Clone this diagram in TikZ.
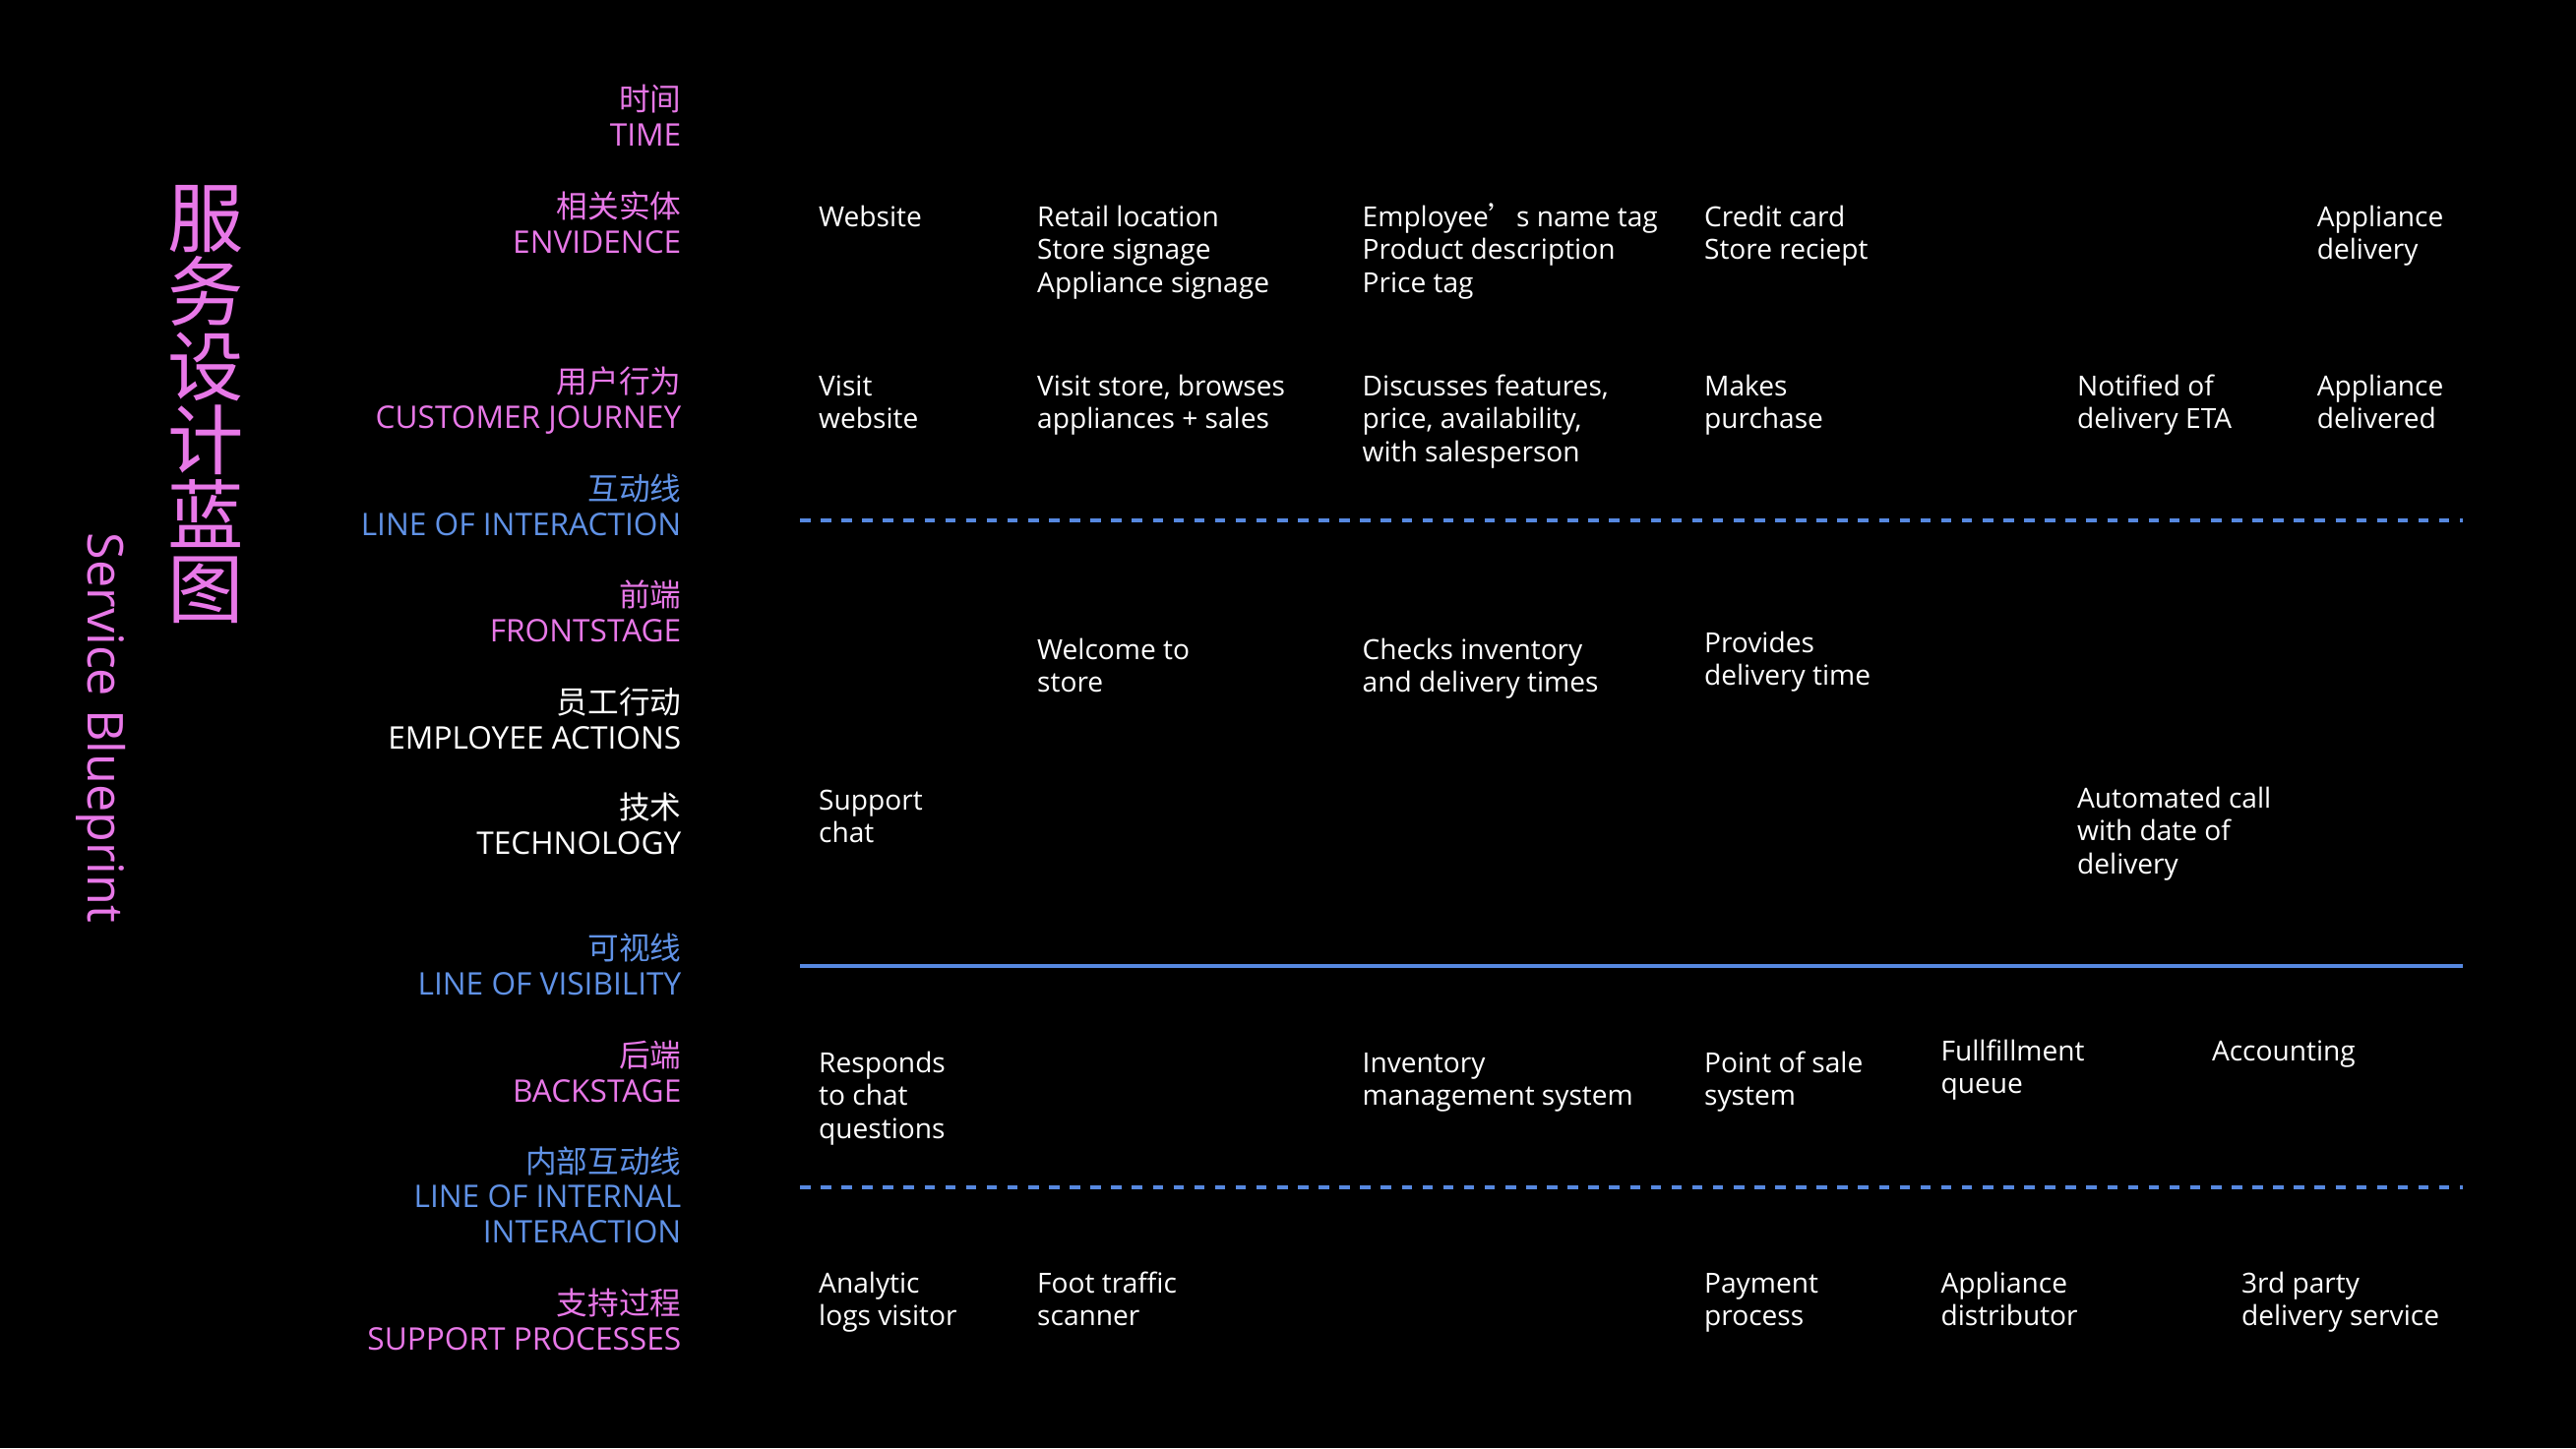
\documentclass[tikz,border=0pt]{standalone}
\usepackage{fontspec}
\setmainfont{Open Sans}
\newfontfamily\cjk{Noto Sans CJK SC}
\usepackage{tikz}
\usetikzlibrary{positioning}

\definecolor{pinklabel}{RGB}{232,120,232}
\definecolor{bluelabel}{RGB}{96,146,230}
\definecolor{blueline}{RGB}{86,136,224}

\begin{document}
\begin{tikzpicture}[
    rowlabel/.style={anchor=base east, align=right, inner sep=0pt, text=pinklabel, font=\fontsize{9}{10}\selectfont},
    linelabel/.style={rowlabel, text=bluelabel},
    stafflabel/.style={rowlabel, text=white},
    item/.style={anchor=base west, align=left, inner sep=0pt, text=white, font=\fontsize{8}{9.5}\selectfont},
    dashline/.style={draw=blueline, line width=1pt, dash pattern=on 3pt off 3pt},
    solidline/.style={draw=blueline, line width=1pt}
]
    \path[use as bounding box, fill=black] (0,0) rectangle (26.18,-14.72);

    % titles
    \node[text=pinklabel, align=center, inner sep=0pt, font=\cjk\fontsize{22}{21.5}\selectfont] (title) at (2.09,-4.11) {服\\务\\设\\计\\蓝\\图};
    \node[text=pinklabel, rotate=-90, inner sep=0pt, font=\fontsize{14.3}{16}\selectfont] (subtitle) at (1.03,-7.40) {Service Blueprint};

    % row labels (placed at the baseline of their last line)
    \node[rowlabel] (time) at (6.93,-1.48) {{\cjk 时间}\\TIME};
    \node[rowlabel] (evid) at (6.93,-2.57) {{\cjk 相关实体}\\ENVIDENCE};
    \node[rowlabel] (journey) at (6.93,-4.35) {{\cjk 用户行为}\\CUSTOMER JOURNEY};
    \node[linelabel] (interact) at (6.93,-5.44) {{\cjk 互动线}\\LINE OF INTERACTION};
    \node[rowlabel] (front) at (6.93,-6.52) {{\cjk 前端}\\FRONTSTAGE};
    \node[stafflabel] (staff) at (6.93,-7.61) {{\cjk 员工行动}\\EMPLOYEE ACTIONS};
    \node[stafflabel] (tech) at (6.93,-8.68) {{\cjk 技术}\\TECHNOLOGY};
    \node[linelabel] (visible) at (6.93,-10.11) {{\cjk 可视线}\\LINE OF VISIBILITY};
    \node[rowlabel] (back) at (6.93,-11.20) {{\cjk 后端}\\BACKSTAGE};
    \node[linelabel] (internal) at (6.93,-12.63) {{\cjk 内部互动线}\\LINE OF INTERNAL\\INTERACTION};
    \node[rowlabel] (support) at (6.93,-13.72) {{\cjk 支持过程}\\SUPPORT PROCESSES};

    % divider lines
    \coordinate (interact-l) at (8.13,-5.29);
    \coordinate (interact-r) at (25.03,-5.29);
    \coordinate (visible-l) at (8.13,-9.82);
    \coordinate (visible-r) at (25.03,-9.82);
    \coordinate (internal-l) at (8.13,-12.07);
    \coordinate (internal-r) at (25.03,-12.07);
    \draw[dashline] (interact-l) -- (interact-r);
    \draw[solidline] (visible-l) -- (visible-r);
    \draw[dashline] (internal-l) -- (internal-r);

    % evidence
    \node[item] (ev1) at (8.315,-2.30) {Website};
    \node[item] (ev2) at (10.535,-2.97) {Retail location\\Store signage\\Appliance signage};
    \node[item] (ev3) at (13.84,-2.97) {Employee{\cjk ’}s name tag\\Product description\\Price tag};
    \node[item] (ev4) at (17.314,-2.635) {Credit card\\Store reciept};
    \node[item] (ev5) at (23.541,-2.635) {Appliance\\delivery};

    % customer journey
    \node[item] (cj1) at (8.315,-4.355) {Visit\\website};
    \node[item] (cj2) at (10.535,-4.355) {Visit store, browses\\appliances + sales};
    \node[item] (cj3) at (13.84,-4.69) {Discusses features,\\price, availability,\\with salesperson};
    \node[item] (cj4) at (17.314,-4.355) {Makes\\purchase};
    \node[item] (cj5) at (21.104,-4.355) {Notified of\\delivery ETA};
    \node[item] (cj6) at (23.541,-4.355) {Appliance\\delivered};

    % frontstage
    \node[item] (fs1) at (10.535,-7.035) {Welcome to\\store};
    \node[item] (fs2) at (13.84,-7.035) {Checks inventory\\and delivery times};
    \node[item] (fs3) at (17.314,-6.965) {Provides\\delivery time};

    % technology
    \node[item] (te1) at (8.315,-8.565) {Support\\chat};
    \node[item] (te2) at (21.104,-8.88) {Automated call\\with date of\\delivery};

    % backstage
    \node[item] (bs1) at (8.315,-11.57) {Responds\\to chat\\questions};
    \node[item] (bs2) at (13.84,-11.235) {Inventory\\management system};
    \node[item] (bs3) at (17.314,-11.235) {Point of sale\\system};
    \node[item] (bs4) at (19.718,-11.115) {Fullfillment\\queue};
    \node[item] (bs5) at (22.473,-10.78) {Accounting};

    % support processes
    \node[item] (sp1) at (8.315,-13.475) {Analytic\\logs visitor};
    \node[item] (sp2) at (10.535,-13.475) {Foot traffic\\scanner};
    \node[item] (sp3) at (17.314,-13.475) {Payment\\process};
    \node[item] (sp4) at (19.718,-13.475) {Appliance\\distributor};
    \node[item] (sp5) at (22.773,-13.475) {3rd party\\delivery service};
\end{tikzpicture}
\end{document}
